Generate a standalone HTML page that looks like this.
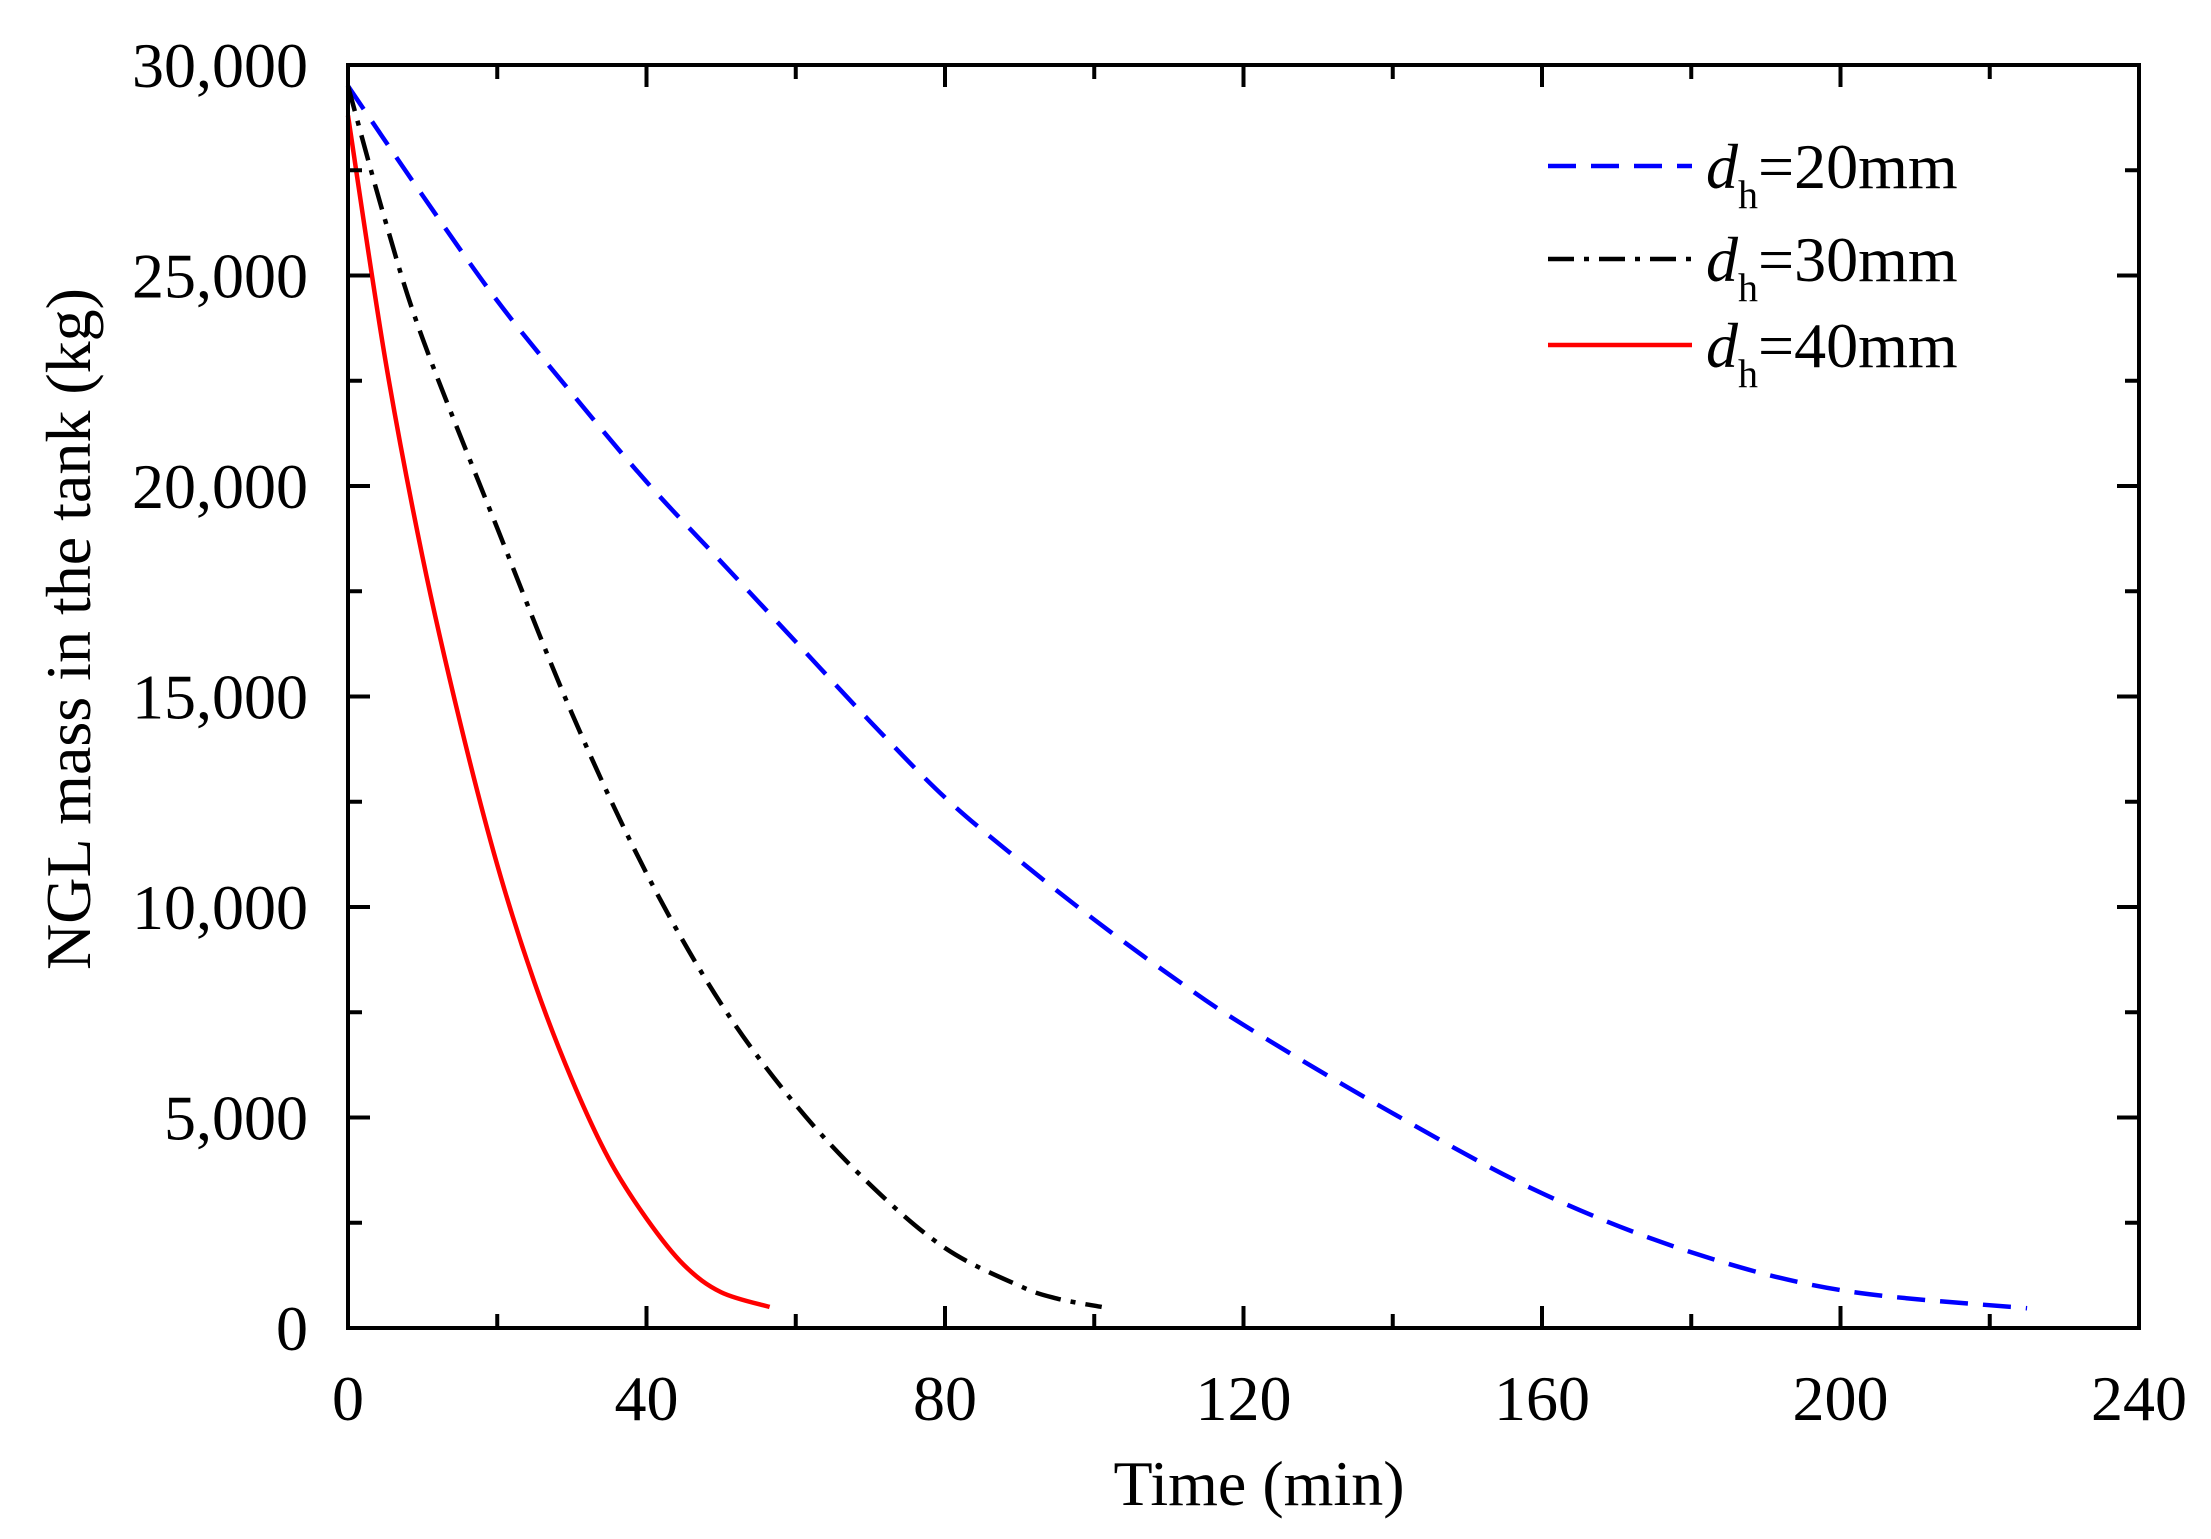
<!DOCTYPE html>
<html><head><meta charset="utf-8"><style>
html,body{margin:0;padding:0;background:#fff}
svg{display:block}
text{font-family:"Liberation Serif",serif;fill:#000}
</style></head><body>
<svg id="chart" width="2211" height="1539" viewBox="0 0 2211 1539"></svg>
<script>
const xTicks=[0,40,80,120,160,200,240];
const yTicks=[0,5000,10000,15000,20000,25000,30000];
const yTickLabels=["0","5,000","10,000","15,000","20,000","25,000","30,000"];
const t20=[0,10,20,30,40,50,60,70,80,90,100,110,120,140,160,180,200,225];
const m20=[29500,26900,24400,22200,20100,18200,16300,14400,12600,11100,9700,8400,7200,5100,3200,1800,900,470];
const t30=[0,5,10,20,30,40,50,60,70,80,90,95,101];
const m30=[29500,26300,23500,19000,14600,10800,7700,5300,3400,1900,1000,700,500];
const t40=[0,5,10,15,20,25,30,35,40,45,50,56.5];
const m40=[28800,23000,18300,14400,11000,8200,5900,4000,2600,1500,850,500];

const NS="http://www.w3.org/2000/svg";
const svg=document.getElementById('chart');
const L=348,R=2139,T=65,B=1328;
const X=v=>L+(v-0)/(240-0)*(R-L);
const Y=v=>B-(v-0)/(30000-0)*(B-T);
function mk(tag,attrs,parent){const e=document.createElementNS(NS,tag);for(const k in attrs)e.setAttribute(k,attrs[k]);(parent||svg).appendChild(e);return e;}

function pathFor(ts,ms){
  const p=ts.map((t,i)=>[X(t),Y(ms[i])]);
  let d="M"+p[0][0]+","+p[0][1];
  for(let i=0;i<p.length-1;i++){
    const p0=p[i-1]||p[i],p1=p[i],p2=p[i+1],p3=p[i+2]||p2;
    const c1=[p1[0]+(p2[0]-p0[0])/6,p1[1]+(p2[1]-p0[1])/6];
    const c2=[p2[0]-(p3[0]-p1[0])/6,p2[1]-(p3[1]-p1[1])/6];
    d+=" C"+c1+" "+c2+" "+p2;
  }
  return d;
}
const s1=mk('path',{d:pathFor(t20,m20),fill:'none',stroke:'#0000ff','stroke-width':4.5,'stroke-dasharray':'28 15'});


const s2=mk('path',{d:pathFor(t30,m30),fill:'none',stroke:'#000','stroke-width':4.5,'stroke-dasharray':'26 10 5 10'});


const s3=mk('path',{d:pathFor(t40,m40),fill:'none',stroke:'#ff0000','stroke-width':4.5});



const fr=mk('rect',{x:L,y:T,width:R-L,height:B-T,fill:'none',stroke:'#000','stroke-width':4});



for(let v=0;v<=240;v+=20){
  const major=v%40===0,len=major?22:14,x=X(v);
  const a=mk('line',{x1:x,y1:B,x2:x,y2:B-len,stroke:'#000','stroke-width':4});
  
  
  const b=mk('line',{x1:x,y1:T,x2:x,y2:T+len,stroke:'#000','stroke-width':4});
  
  
}
for(let v=0;v<=30000;v+=2500){
  const major=v%5000===0,len=major?22:14,y=Y(v);
  const a=mk('line',{x1:L,y1:y,x2:L+len,y2:y,stroke:'#000','stroke-width':4});
  
  
  const b=mk('line',{x1:R,y1:y,x2:R-len,y2:y,stroke:'#000','stroke-width':4});
  
  
}
xTicks.forEach(v=>{
  const t=mk('text',{x:X(v),y:1420,'text-anchor':'middle','font-size':64});
  t.textContent=v;
  
  
});
yTicks.forEach((v,i)=>{
  const t=mk('text',{x:308,y:Y(v)+22,'text-anchor':'end','font-size':64});
  t.textContent=yTickLabels[i];
  
  
});
const xt=mk('text',{x:1259,y:1505,'text-anchor':'middle','font-size':64});
xt.textContent='Time (min)';


const yt=mk('text',{x:0,y:0,'text-anchor':'middle','font-size':64,transform:'translate(90,629) rotate(-90)'});
yt.textContent='NGL mass in the tank (kg)';



const leg=[["20mm",'#0000ff','28 15',166],["30mm",'#000','26 10 5 10',259],["40mm",'#ff0000','',345]];
leg.forEach(l=>{
  const g=mk('g',{});
  
  
  const ln=mk('line',{x1:1548,y1:l[3],x2:1692,y2:l[3],stroke:l[1],'stroke-width':4.5},g);
  if(l[2])ln.setAttribute('stroke-dasharray',l[2]);
  
  
  const t=mk('text',{x:1706,y:l[3]+22,'font-size':64},g);
  t.innerHTML='<tspan font-style="italic">d</tspan><tspan font-size="40" dy="20">h</tspan><tspan dy="-20">='+l[0]+'</tspan>';
  
  
});
</script>
</body></html>
